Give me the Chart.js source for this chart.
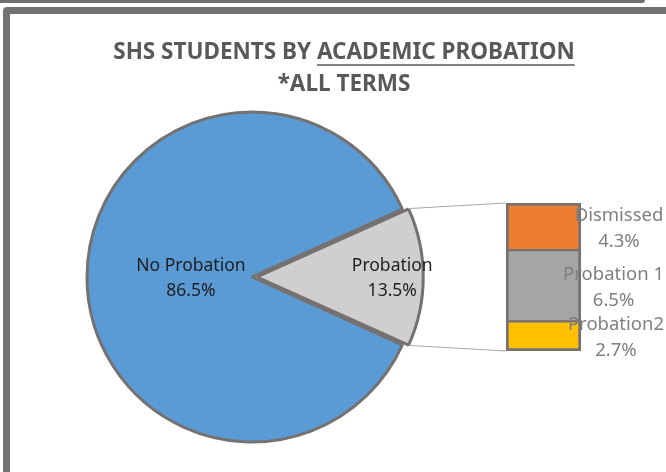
<!DOCTYPE html>
<html>
<head>
<meta charset="utf-8">
<script src="https://cdn.jsdelivr.net/npm/chart.js@4"></script>
<style>
  html, body { margin: 0; padding: 0; background: #fff; }
  body { width: 666px; height: 472px; position: relative; overflow: hidden; }
  .prev { position: absolute; left: -10px; top: -10px; width: 655px; height: 13px; box-sizing: border-box; border: 3px solid #6f6f6f; border-radius: 3px; }
  .frame { position: absolute; left: 3px; top: 7px; width: 720px; height: 520px; box-sizing: border-box; border: 7px solid #737373; border-radius: 4px; }
  canvas { position: absolute; left: 0; top: 0; }
</style>
</head>
<body>
<div class="prev"></div>
<div class="frame"></div>
<canvas id="pieChart" width="666" height="472"></canvas>
<canvas id="barChart" width="666" height="472"></canvas>
<script>
// chart data
const pieLabels = ['No Probation', 'Probation'];
const pieValues = [86.5, 13.5];
const pieColors = ['#5b9bd5', '#d0cece'];

const barLabels = ['Dismissed', 'Probation 1', 'Probation2'];
const barValues = [4.3, 6.5, 2.7];
const barColors = ['#ed7d31', '#a5a5a5', '#ffc000'];

const titleText = ['SHS STUDENTS BY ', 'ACADEMIC PROBATION'];
const subtitleText = '*ALL TERMS';

const FONT = '"Noto Sans", sans-serif';
const pieTotal = pieValues.reduce((a, b) => a + b, 0);
const barTotal = barValues.reduce((a, b) => a + b, 0);
// put the split slice (last one) centred at 3 o'clock
const splitAngle = pieValues[pieValues.length - 1] / pieTotal * 360;

const pct = v => v.toFixed(1) + '%';

// title with underlined second half
const titlePlugin = {
    id: 'excelTitle',
    afterDraw(chart) {
        const ctx = chart.ctx;
        ctx.save();
        ctx.fillStyle = '#595959';
        ctx.strokeStyle = '#595959';
        ctx.font = 'bold 22.5px ' + FONT;
        ctx.textBaseline = 'middle';
        const w1 = ctx.measureText(titleText[0]).width;
        const w2 = ctx.measureText(titleText[1]).width;
        const cx = 344;
        let x = cx - (w1 + w2) / 2;
        ctx.textAlign = 'left';
        ctx.fillText(titleText[0], x, 53);
        ctx.fillText(titleText[1], x + w1, 53);
        ctx.lineWidth = 1.5;
        ctx.beginPath();
        ctx.moveTo(x + w1, 65);
        ctx.lineTo(x + w1 + w2, 65);
        ctx.stroke();
        ctx.textAlign = 'center';
        ctx.fillText(subtitleText, cx, 85);
        ctx.restore();
    }
};

const pieLabelPlugin = {
    id: 'pieLabels',
    afterDatasetsDraw(chart, args, opts) {
        const ctx = chart.ctx;
        const meta = chart.getDatasetMeta(0);
        ctx.save();
        ctx.fillStyle = '#1f1f1f';
        ctx.font = '17.5px ' + FONT;
        ctx.textAlign = 'center';
        ctx.textBaseline = 'middle';
        meta.data.forEach((arc, i) => {
            const mid = (arc.startAngle + arc.endAngle) / 2;
            const r = arc.outerRadius * opts.pos[i];
            const x = arc.x + Math.cos(mid) * r;
            const y = arc.y + Math.sin(mid) * r;
            ctx.fillText(pieLabels[i], x, y - 11);
            ctx.fillText(pct(pieValues[i]), x, y + 14);
        });
        ctx.restore();
    }
};

const pieChart = new Chart(document.getElementById('pieChart'), {
    type: 'pie',
    data: {
        labels: pieLabels,
        datasets: [{
            data: pieValues,
            backgroundColor: pieColors,
            borderColor: '#767171',
            borderWidth: 3,
            offset: [0, 20]
        }]
    },
    options: {
        responsive: false,
        animation: false,
        events: [],
        rotation: 90 + splitAngle / 2,
        radius: 165,
        layout: { padding: { left: 80, right: 242, top: 105, bottom: 23 } },
        plugins: {
            legend: { display: false },
            tooltip: { enabled: false },
            pieLabels: { pos: [0.37, 0.85] }
        }
    },
    plugins: [titlePlugin, pieLabelPlugin]
});

// lines from the split slice to the bar
const connectorPlugin = {
    id: 'connectors',
    beforeDatasetsDraw(chart) {
        const arc = pieChart.getDatasetMeta(0).data[pieValues.length - 1];
        const off = (arc.options.offset || 0) / 4;
        const mid = (arc.startAngle + arc.endAngle) / 2;
        const fix = 1 - Math.sin(Math.min(Math.PI, arc.circumference));
        const R = arc.outerRadius + off * fix;
        const ox = arc.x + Math.cos(mid) * off;
        const oy = arc.y + Math.sin(mid) * off;
        const metas = chart.getSortedVisibleDatasetMetas();
        const bottom = metas[0].data[0];
        const top = metas[metas.length - 1].data[0];
        const left = top.x - top.width / 2;
        const ctx = chart.ctx;
        ctx.save();
        ctx.strokeStyle = '#a6a6a6';
        ctx.lineWidth = 1;
        ctx.beginPath();
        ctx.moveTo(ox + Math.cos(arc.startAngle) * R, oy + Math.sin(arc.startAngle) * R);
        ctx.lineTo(left, top.y);
        ctx.moveTo(ox + Math.cos(arc.endAngle) * R, oy + Math.sin(arc.endAngle) * R);
        ctx.lineTo(left, bottom.base);
        ctx.stroke();
        ctx.restore();
    }
};

// labels sit right of the bar, pushed back in when they would run off the plot
const barLabelPlugin = {
    id: 'barLabels',
    afterDatasetsDraw(chart) {
        const ctx = chart.ctx;
        ctx.save();
        ctx.fillStyle = '#7f7f7f';
        ctx.font = '18.5px ' + FONT;
        ctx.textAlign = 'center';
        ctx.textBaseline = 'middle';
        chart.data.datasets.forEach((ds, i) => {
            const el = chart.getDatasetMeta(i).data[0];
            const txt = [ds.label, pct(ds.data[0])];
            const w = Math.max(...txt.map(t => ctx.measureText(t).width));
            const cx = Math.min(el.x + el.width / 2 + 38, 664 - w / 2);
            const cy = (el.y + el.base) / 2 + 2;
            ctx.fillText(txt[0], cx, cy - 13);
            ctx.fillText(txt[1], cx, cy + 13);
        });
        ctx.restore();
    }
};

// stacked from the bottom up, so the first category ends on top
const barDatasets = barLabels.map((label, i) => {
    const last = barLabels.length - 1;
    return {
        label: label,
        data: [barValues[i]],
        backgroundColor: barColors[i],
        borderColor: '#767171',
        borderWidth: { left: 3, right: 3, top: i === 0 ? 3 : 1.5, bottom: i === last ? 3 : 1.5 },
        borderSkipped: false,
        barPercentage: 1,
        categoryPercentage: 1
    };
}).reverse();

new Chart(document.getElementById('barChart'), {
    type: 'bar',
    data: { labels: ['Probation'], datasets: barDatasets },
    options: {
        responsive: false,
        animation: false,
        events: [],
        layout: { padding: { left: 506, right: 85, top: 203, bottom: 121 } },
        scales: {
            x: { display: false, stacked: true },
            y: { display: false, stacked: true, min: 0, max: barTotal }
        },
        plugins: { legend: { display: false }, tooltip: { enabled: false } }
    },
    plugins: [connectorPlugin, barLabelPlugin]
});
</script>
</body>
</html>
